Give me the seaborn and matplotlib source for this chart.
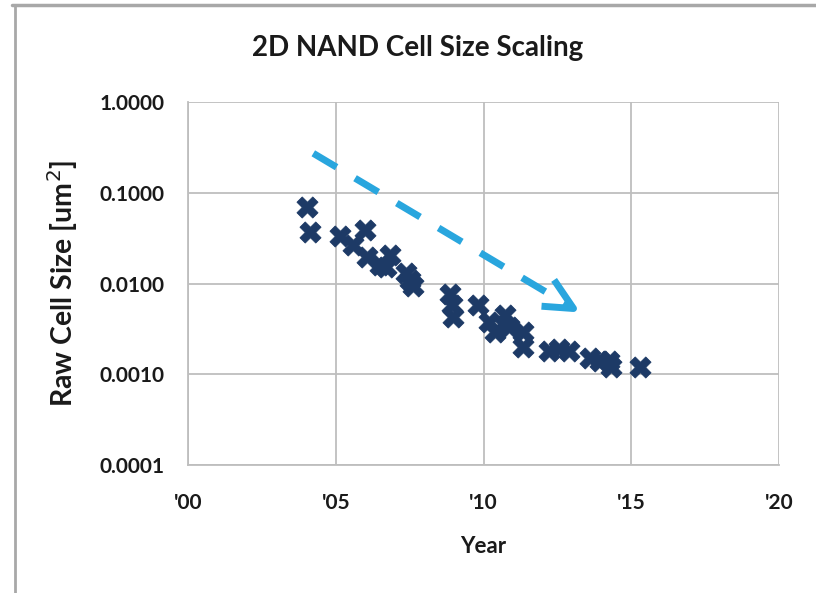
import matplotlib
matplotlib.use("Agg")
import matplotlib.pyplot as plt
from matplotlib.lines import Line2D
from matplotlib.markers import MarkerStyle
from matplotlib.path import Path
from matplotlib.ticker import FixedLocator, NullLocator
import pandas as pd
import seaborn as sns

# Raw NAND flash cell size by product year (um^2)
years = [2004.03, 2004.13, 2005.13, 2005.57, 2005.99, 2006.06, 2006.50, 2006.70,
         2006.84, 2007.39, 2007.51, 2007.61, 2008.87, 2008.92, 2008.98, 2009.81,
         2010.17, 2010.39, 2010.74, 2010.85, 2011.34, 2011.34, 2012.22, 2012.55,
         2012.89, 2013.60, 2013.94, 2014.25, 2014.31, 2015.30]
cell_size = [0.0688, 0.0374, 0.0334, 0.0266, 0.0389, 0.0196, 0.0160, 0.0152,
             0.0206, 0.0130, 0.0109, 0.0093, 0.0077, 0.0058, 0.0043, 0.0058,
             0.0038, 0.0029, 0.0045, 0.0033, 0.0029, 0.0020, 0.0018, 0.0019,
             0.0018, 0.0015, 0.0014, 0.0014, 0.0012, 0.0012]

x_ticks = [2000, 2005, 2010, 2015, 2020]
x_tick_labels = ["'00", "'05", "'10", "'15", "'20"]
y_ticks = [0.0001, 0.001, 0.01, 0.1, 1.0]
y_tick_labels = ["0.0001", "0.0010", "0.0100", "0.1000", "1.0000"]

# Trend arrow: tail and tip (year, um^2)
trend_years = [2004.24, 2013.04]
trend_sizes = [0.272, 0.00533]

NAVY = "#1D3A66"
SKY = "#29A6DE"
GRID = "#BEBEBE"
TEXT = "#1A1A1A"

sns.set_theme(style="white")
plt.rcParams["font.family"] = ["Lato", "DejaVu Sans"]

fig = plt.figure(figsize=(8.16, 5.93), dpi=100)
ax = fig.add_axes([188 / 816, 1 - 465 / 593, (779 - 188) / 816, (465 - 102) / 593])

df = pd.DataFrame({"Year": years, "Cell": cell_size})
sns.scatterplot(data=df, x="Year", y="Cell", marker="X", s=230, color=NAVY,
                edgecolor=NAVY, linewidth=0.6, ax=ax, zorder=3, clip_on=False)

ax.set_yscale("log")
ax.set_xlim(2000, 2020)
ax.set_ylim(1e-4, 1)
ax.xaxis.set_major_locator(FixedLocator(x_ticks))
ax.set_xticklabels(x_tick_labels)
ax.yaxis.set_major_locator(FixedLocator(y_ticks))
ax.yaxis.set_minor_locator(NullLocator())
ax.set_yticklabels(y_tick_labels)

ax.grid(True, color=GRID, linewidth=1.3)
ax.set_axisbelow(True)
for side in ["top", "right"]:
    ax.spines[side].set_visible(False)
for side in ["left", "bottom"]:
    ax.spines[side].set_color(GRID)
    ax.spines[side].set_linewidth(1.3)

ax.tick_params(axis="both", which="major", direction="out", length=7,
               width=1.3, color=GRID, labelsize=15, labelcolor=TEXT)
ax.tick_params(axis="y", pad=10)
ax.tick_params(axis="x", pad=13)
for lbl in ax.get_xticklabels() + ax.get_yticklabels():
    lbl.set_fontweight("bold")

ax.set_xlabel("Year", fontsize=16, fontweight="bold", color=TEXT, labelpad=17)
ax.set_ylabel("Raw Cell Size [um$^2$]", fontsize=20.5, fontweight="bold",
              color=TEXT, labelpad=14)
fig.text(418 / 816, 1 - 48 / 593, "2D NAND Cell Size Scaling", ha="center",
         va="center", fontsize=20, fontweight="bold", color=TEXT)

# Dashed trend arrow shaft
ax.plot(trend_years, trend_sizes, color=SKY, linewidth=5,
        linestyle=(0, (3.9, 3.1)), dash_capstyle="butt", zorder=4)

# Open arrowhead at the tip, drawn as an unfilled chevron marker
head = Path([(-17, 25), (0, 0), (-28, 2)],
            [Path.MOVETO, Path.LINETO, Path.LINETO])
ax.plot([trend_years[1]], [trend_sizes[1]], linestyle="none",
        marker=MarkerStyle(head, fillstyle="none", joinstyle="miter", capstyle="butt"),
        markersize=64 * 72 / 100, markeredgewidth=5, markeredgecolor=SKY, zorder=4)

# Chart border
fig.add_artist(Line2D([12 / 816, 1], [1 - 5 / 593, 1 - 5 / 593], color="#A8A8A8",
                      linewidth=2.5, transform=fig.transFigure))
fig.add_artist(Line2D([15 / 816, 15 / 816], [0, 1 - 5 / 593], color="#A8A8A8",
                      linewidth=2.0, transform=fig.transFigure))

fig.savefig("out.png", dpi=100, facecolor="white")
